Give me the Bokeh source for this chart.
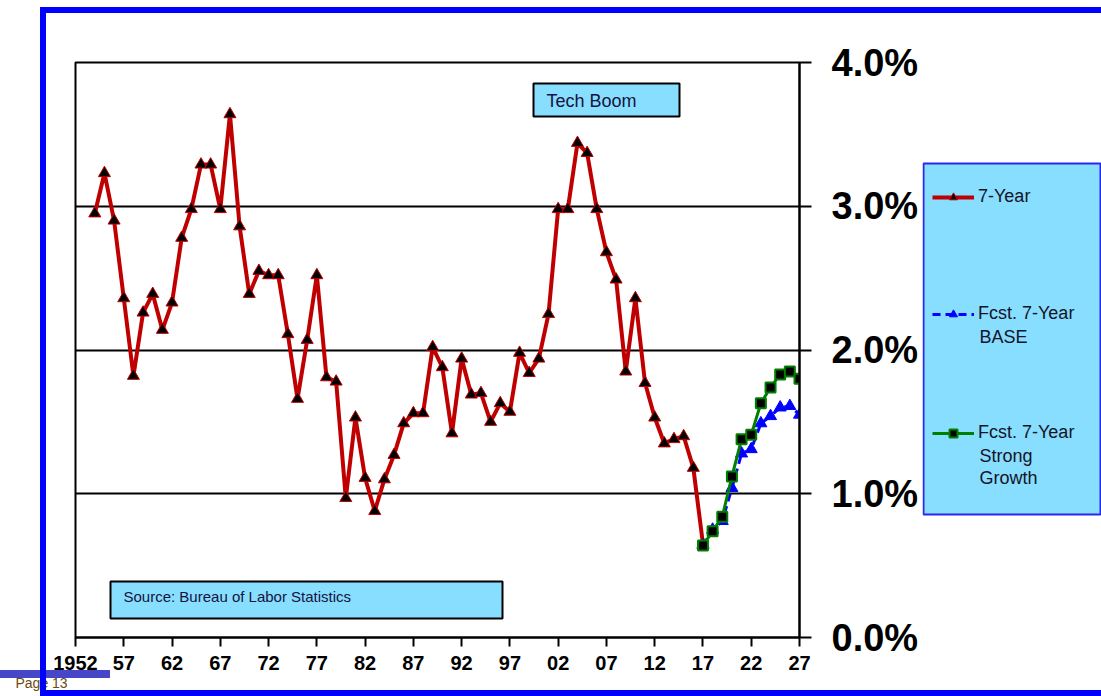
from bokeh.plotting import figure
from bokeh.layouts import row
from bokeh.models import (BoxAnnotation, Label, Legend, LegendItem, FixedTicker, Title,
                          PrintfTickFormatter, Range1d, ColumnDataSource, InlineStyleSheet)
from bokeh.embed import file_html
from bokeh.resources import INLINE

# ---------------- data ----------------
hist_years = list(range(1954, 2018))
hist_values = [2.95, 3.23, 2.90, 2.36, 1.82, 2.26, 2.39, 2.14, 2.33, 2.78,
               2.98, 3.29, 3.29, 2.98, 3.64, 2.86, 2.39, 2.55, 2.52, 2.52,
               2.11, 1.66, 2.07, 2.52, 1.81, 1.78, 0.97, 1.53, 1.11, 0.88,
               1.10, 1.27, 1.49, 1.56, 1.56, 2.02, 1.88, 1.42, 1.94, 1.69,
               1.70, 1.50, 1.63, 1.57, 1.98, 1.84, 1.94, 2.25, 2.98, 2.98,
               3.44, 3.37, 2.98, 2.68, 2.49, 1.85, 2.36, 1.77, 1.53, 1.35,
               1.38, 1.40, 1.18, 0.65]
fcst_years = list(range(2017, 2028))
base_values = [0.64, 0.75, 0.81, 1.04, 1.28, 1.31, 1.49, 1.54, 1.60, 1.61, 1.55]
strong_values = [0.64, 0.74, 0.84, 1.12, 1.38, 1.41, 1.63, 1.74, 1.83, 1.85, 1.80]

x_ticks = [1952, 1957, 1962, 1967, 1972, 1977, 1982, 1987, 1992, 1997,
           2002, 2007, 2012, 2017, 2022, 2027]
x_tick_labels = ["1952", "57", "62", "67", "72", "77", "82", "87", "92", "97",
                 "02", "07", "12", "17", "22", "27"]
y_ticks = [0, 1, 2, 3, 4]

series_names = ["7-Year", "Fcst. 7-Year", "Fcst. 7-Year"]
series_extra = [[], ["BASE"], ["Strong", "Growth"]]
tech_text = "Tech Boom"
source_text = "Source: Bureau of Labor Statistics"
page_text = "Page 13"

FONT = "Liberation Sans"
RED, BLUE, GREEN = "#C00000", "#0000FF", "#008000"

# ---------------- main chart ----------------
p = figure(width=922, height=696, x_range=Range1d(1952, 2027), y_range=Range1d(0, 4),
           output_backend="svg", toolbar_location=None, y_axis_location="right",
           min_border_left=75, min_border_right=123, min_border_top=62, min_border_bottom=59)
p.background_fill_color = "white"
p.border_fill_alpha = 0
p.outline_line_color = "black"
p.outline_line_width = 2

p.xgrid.visible = False
p.ygrid.grid_line_color = "black"
p.ygrid.grid_line_width = 2
p.ygrid.ticker = FixedTicker(ticks=y_ticks)

xa = p.xaxis[0]
xa.ticker = FixedTicker(ticks=x_ticks)
xa.major_label_overrides = {t: lab for t, lab in zip(x_ticks, x_tick_labels)}
xa.major_label_text_font = FONT
xa.major_label_text_font_style = "bold"
xa.major_label_text_font_size = "20px"
xa.major_label_text_color = "black"
xa.axis_line_color = "black"
xa.axis_line_width = 2
xa.major_tick_line_color = "black"
xa.major_tick_line_width = 2
xa.major_tick_in = 0
xa.major_tick_out = 9
xa.minor_tick_line_color = None
xa.major_label_standoff = 9

ya = p.yaxis[0]
ya.ticker = FixedTicker(ticks=y_ticks)
ya.formatter = PrintfTickFormatter(format="%.1f%%")
ya.major_label_text_font = FONT
ya.major_label_text_font_style = "bold"
ya.major_label_text_font_size = "38px"
ya.major_label_text_color = "black"
ya.axis_line_color = "black"
ya.axis_line_width = 2
ya.major_tick_line_color = "black"
ya.major_tick_line_width = 2
ya.major_tick_in = 0
ya.major_tick_out = 12
ya.minor_tick_line_color = None
ya.major_label_standoff = 20

hist = ColumnDataSource(dict(x=hist_years, y=hist_values))
base = ColumnDataSource(dict(x=fcst_years, y=base_values))
strong = ColumnDataSource(dict(x=fcst_years, y=strong_values))

def series(fig):
    return [
        [fig.line("x", "y", source=hist, line_color=RED, line_width=4),
         fig.scatter("x", "y", source=hist, marker="triangle", size=12,
                     fill_color="black", line_color=RED, line_width=1)],
        [fig.line("x", "y", source=base, line_color=BLUE, line_width=3, line_dash="8 5"),
         fig.scatter("x", "y", source=base, marker="triangle", size=12,
                     fill_color=BLUE, line_color=BLUE, line_width=1)],
        [fig.line("x", "y", source=strong, line_color=GREEN, line_width=3),
         fig.scatter("x", "y", source=strong, marker="square", size=10,
                     fill_color="black", line_color=GREEN, line_width=2)],
    ]

series(p)

def sbox(l, r, t, b, fill, **kw):
    return BoxAnnotation(left=l, right=r, top=t, bottom=b,
                         left_units="screen", right_units="screen",
                         top_units="screen", bottom_units="screen",
                         fill_color=fill, fill_alpha=1, line_alpha=1, **kw)

p.add_layout(sbox(458, 604, 554, 521, "#87DEFF", line_color="black", line_width=2,
                  level="overlay"))
p.add_layout(Label(x=471, y=537, x_units="screen", y_units="screen", text=tech_text,
                   text_font=FONT, text_font_size="18px", text_color="#141440",
                   text_baseline="middle", level="overlay"))
p.add_layout(sbox(35, 427, 56, 19, "#87DEFF", line_color="black", line_width=2,
                  level="overlay"))
p.add_layout(Label(x=48, y=41, x_units="screen", y_units="screen", text=source_text,
                   text_font=FONT, text_font_size="15px", text_color="#141440",
                   text_baseline="middle", level="overlay"))

p.add_layout(Title(text=page_text, align="left", offset=-60, standoff=0,
                   text_font=FONT, text_font_size="14px", text_font_style="normal",
                   text_color="#6B4A10"), "below")

# ---------------- legend panel (frame aligned with the chart frame: 62..637) ----------------
q = figure(width=179, height=696, x_range=Range1d(0, 179), y_range=Range1d(0, 575),
           output_backend="svg", toolbar_location=None,
           x_axis_location=None, y_axis_location=None,
           min_border_left=0, min_border_right=0, min_border_top=62, min_border_bottom=59)
q.grid.visible = False
q.outline_line_color = None
q.background_fill_alpha = 0
q.border_fill_alpha = 0
FB = 637  # page y of the frame bottom
q.add_layout(sbox(1, 178, FB - 163, FB - 514, "#87DEFF", line_color="#2828F0",
                  line_width=2, level="underlay"))

proxies = series(q)   # same data, far outside this panel's range: only used by the legend
first_line_y = [197, 314, 433]   # page-pixel centres of the first text line
for name, extra, rr, cy in zip(series_names, series_extra, proxies, first_line_y):
    lg = Legend(items=[LegendItem(label=name, renderers=rr)],
                location=(10, FB - cy - 10),
                background_fill_alpha=0, border_line_alpha=0, padding=0, margin=0,
                label_text_font=FONT, label_text_font_size="18px",
                label_text_color="#141428", glyph_width=42, glyph_height=20,
                label_height=20, label_standoff=4)
    q.add_layout(lg)
    for k, t in enumerate(extra):
        q.add_layout(Label(x=57, y=FB - cy - 22 * (k + 1), x_units="screen",
                           y_units="screen", text=t, text_font=FONT,
                           text_font_size="18px", text_color="#141428",
                           text_baseline="middle"))

layout = row(p, q, spacing=0)
layout.stylesheets = [InlineStyleSheet(css="""
:host { position: relative; overflow: hidden; }
:host::before { content: ""; position: absolute; left: 0px; top: 670px; width: 110px;
  height: 8px; background: #4646C8; pointer-events: none; }
:host::after { content: ""; position: absolute; left: 40px; top: 7px; width: 1061px;
  height: 689px; box-sizing: border-box; border: 6px solid #0000FF; border-right: none;
  z-index: 20; pointer-events: none; }
""")]

open("out.html", "w").write(file_html(layout, INLINE))
